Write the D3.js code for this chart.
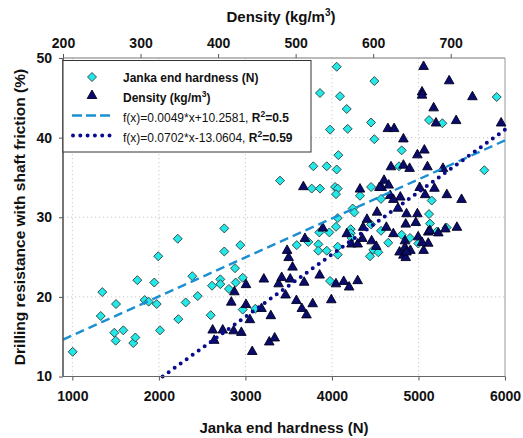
<!DOCTYPE html>
<html>
<head>
<meta charset="utf-8">
<script src="https://cdn.jsdelivr.net/npm/d3@7/dist/d3.min.js"></script>
<style>
  html, body { margin: 0; padding: 0; background: #fff; }
  svg { display: block; font-family: "Liberation Sans", Arial, sans-serif; }
</style>
</head>
<body>
<svg id="chart" width="523" height="438"></svg>
<script>
// Janka end hardness (N) vs. drilling resistance (%)
const jankaHardness = [
  1004, 1346, 1328, 1505, 1485, 1501, 1589, 1704, 1728, 1751, 1836, 1882, 1947, 1975, 1993, 2013,
  2225, 2218, 2310, 2386, 2449, 2599, 2614, 2710, 2710, 2756, 2756, 2810, 2880, 2888, 2941, 2969,
  2969, 3114, 3400, 4055, 4490, 3862, 4093, 4171, 3978, 4182, 4452, 4490, 5122, 5276, 5904, 4074,
  3785, 3940, 4055, 4806, 4775, 5761, 3766, 3862, 4036, 4067, 4047, 4324, 4452, 4567, 5153, 4240,
  4259, 4067, 5122, 5133, 4047, 4217, 4452, 3854, 3970, 4567, 5326, 3727, 3593, 3843, 3843, 3940,
  4067, 4067, 3978, 4217, 4228, 4478, 4536, 4440, 4651, 4806, 4998, 4902, 5211
];
const jankaDrilling = [
  13.1, 20.6, 17.6, 19.1, 15.5, 14.5, 15.8, 14.2, 14.9, 22.1, 19.6, 19.4, 21.8, 19.1, 25.1, 15.8,
  17.2, 27.3, 19.3, 22.6, 20.1, 17.7, 21.4, 22.2, 21.6, 25.7, 28.6, 21.0, 23.6, 21.8, 26.5, 22.4,
  18.4, 18.5, 34.6, 48.9, 47.1, 45.6, 45.2, 43.6, 41.0, 41.1, 41.9, 39.8, 42.2, 41.8, 45.1, 37.8,
  36.4, 36.4, 36.0, 38.4, 36.4, 35.9, 33.6, 33.6, 33.8, 33.6, 32.9, 32.7, 33.8, 32.3, 32.1, 31.1,
  30.6, 29.9, 30.4, 29.2, 28.8, 28.5, 29.1, 28.1, 28.1, 28.3, 28.7, 26.9, 26.5, 26.6, 25.8, 25.8,
  26.3, 25.3, 22.0, 28.0, 27.4, 25.9, 25.6, 25.1, 26.8, 27.8, 26.7, 27.4, 28.2
];

// Density (kg/m3) vs. drilling resistance (%)
const woodDensity = [
  393, 395, 406, 420, 430, 436, 436, 421, 417, 441, 444, 459, 456, 468, 466, 473,
  478, 482, 487, 489, 491, 496, 493, 511, 531, 501, 522, 508, 514, 546, 552, 562,
  569, 580, 512, 535, 566, 572, 580, 586, 598, 604, 634, 639, 642, 648, 665, 671,
  626, 641, 658, 641, 663, 671, 684, 643, 510, 583, 611, 614, 605, 592, 587, 619,
  627, 639, 666, 657, 670, 623, 639, 647, 690, 660, 679, 667, 695, 714, 620, 622,
  635, 626, 632, 643, 657, 655, 642, 673, 708, 693, 617, 608, 665, 698, 663, 663,
  728, 678, 707, 681, 765
];
const densityDrilling = [
  15.9, 14.6, 15.9, 15.8, 15.6, 21.6, 19.1, 20.7, 19.4, 17.2, 13.2, 22.3, 18.6, 17.7, 14.4, 14.9,
  21.7, 22.5, 20.3, 25.9, 25.0, 23.8, 22.3, 21.9, 22.8, 19.6, 19.2, 18.6, 17.8, 19.7, 21.7, 22.0,
  21.3, 22.1, 27.4, 28.7, 28.0, 26.7, 26.7, 27.4, 27.1, 26.4, 25.7, 25.3, 25.0, 25.9, 25.9, 26.8,
  28.0, 27.1, 27.6, 26.3, 26.9, 28.2, 28.1, 25.7, 33.9, 33.6, 33.8, 34.7, 30.7, 29.8, 28.8, 41.2,
  41.2, 39.9, 38.5, 37.9, 36.4, 36.4, 36.6, 36.2, 36.2, 33.8, 33.7, 32.9, 32.9, 32.3, 34.1, 32.8,
  32.6, 32.3, 31.2, 30.5, 30.5, 29.4, 29.2, 28.4, 28.8, 28.6, 28.8, 33.8, 49.0, 47.2, 45.8, 45.4,
  45.2, 43.8, 42.2, 41.9, 41.9
];

// Linear fits shown in the legend
const fitJanka = { slope: 0.0049, intercept: 10.2581, r2: "0.5" };
const fitDensity = { slope: 0.0702, intercept: -13.0604, r2: "0.59" };

const bottomTicks = [1000, 2000, 3000, 4000, 5000, 6000];
const topTicks = [200, 300, 400, 500, 600, 700];
const leftTicks = [10, 20, 30, 40, 50];

const svg = d3.select("#chart");
const L = 63, R = 505, T = 58, B = 376.5;

const x = d3.scaleLinear().domain([892, 6000]).range([L, R]);
const xTop = d3.scaleLinear().domain([200, 770]).range([L, R]);
const y = d3.scaleLinear().domain([10, 50]).range([B, T]);

// grid
const grid = svg.append("g").attr("stroke", "#c8c8c8").attr("stroke-width", 1).attr("stroke-dasharray", "1.2 2.8");
grid.selectAll("line.v").data(bottomTicks.filter(d => d < 6000)).join("line")
  .attr("x1", d => x(d)).attr("x2", d => x(d)).attr("y1", T).attr("y2", B);
grid.selectAll("line.h").data([20, 30, 40]).join("line")
  .attr("x1", L).attr("x2", R).attr("y1", d => y(d)).attr("y2", d => y(d));

// frame
svg.append("line").attr("x1", L).attr("x2", R).attr("y1", T).attr("y2", T).attr("stroke", "#777").attr("stroke-width", 1);
svg.append("line").attr("x1", R).attr("x2", R).attr("y1", T).attr("y2", B).attr("stroke", "#999").attr("stroke-width", 1);

// markers
const diamond = "M0,-4.5L4.5,0L0,4.5L-4.5,0Z";
const triangle = "M0,-5L4.8,3.5L-4.8,3.5Z";

svg.append("g").selectAll("path").data(jankaHardness).join("path")
  .attr("d", diamond)
  .attr("transform", (d, i) => `translate(${x(d)},${y(jankaDrilling[i])})`)
  .attr("fill", "#22e8e8").attr("stroke", "#2b3b3b").attr("stroke-width", 0.9);

svg.append("g").selectAll("path").data(woodDensity).join("path")
  .attr("d", triangle)
  .attr("transform", (d, i) => `translate(${xTop(d)},${y(densityDrilling[i])})`)
  .attr("fill", "#0b0b6b").attr("stroke", "#00001e").attr("stroke-width", 0.9);

// regression lines
const jx0 = x.domain()[0], jx1 = x.domain()[1];
svg.append("line")
  .attr("x1", x(jx0)).attr("y1", y(fitJanka.slope * jx0 + fitJanka.intercept))
  .attr("x2", x(jx1)).attr("y2", y(fitJanka.slope * jx1 + fitJanka.intercept))
  .attr("stroke", "#1b8fd2").attr("stroke-width", 2.4).attr("stroke-dasharray", "9 5");

const dStart = (10 - fitDensity.intercept) / fitDensity.slope;
const dEnd = xTop.domain()[1];
svg.append("line")
  .attr("x1", xTop(dStart)).attr("y1", y(10))
  .attr("x2", xTop(dEnd)).attr("y2", y(fitDensity.slope * dEnd + fitDensity.intercept))
  .attr("stroke", "#0a0a8c").attr("stroke-width", 4).attr("stroke-linecap", "round")
  .attr("stroke-dasharray", "0 7.4");

// axes
const styleAxis = (g, size) => {
  g.select(".domain").remove();
  g.selectAll(".tick line").attr("stroke", "#555");
  g.selectAll(".tick text").attr("font-size", size).attr("font-weight", "bold").attr("fill", "#111")
    .attr("font-family", "Liberation Sans, Arial, sans-serif");
};
svg.append("g").attr("transform", `translate(0,${B})`)
  .call(d3.axisBottom(x).tickValues(bottomTicks).tickSize(4).tickPadding(11).tickFormat(d3.format("d")))
  .call(g => styleAxis(g, 14));
svg.append("g").attr("transform", `translate(0,${T})`)
  .call(d3.axisTop(xTop).tickValues(topTicks).tickSize(4).tickPadding(6).tickFormat(d3.format("d")))
  .call(g => styleAxis(g, 14));
svg.append("g").attr("transform", `translate(${L},0)`)
  .call(d3.axisLeft(y).tickValues(leftTicks).tickSize(4).tickPadding(7).tickFormat(d3.format("d")))
  .call(g => styleAxis(g, 14));

svg.append("line").attr("x1", L).attr("x2", R).attr("y1", B).attr("y2", B).attr("stroke", "#666").attr("stroke-width", 1);
svg.append("line").attr("x1", L).attr("x2", L).attr("y1", T).attr("y2", B).attr("stroke", "#555").attr("stroke-width", 1.6);

// titles
svg.append("text").attr("x", 284).attr("y", 433).attr("text-anchor", "middle")
  .attr("font-size", 15).attr("font-weight", "bold").attr("fill", "#111").text("Janka end hardness (N)");
const topTitle = svg.append("text").attr("x", 281).attr("y", 22).attr("text-anchor", "middle")
  .attr("font-size", 15).attr("font-weight", "bold").attr("fill", "#111");
topTitle.append("tspan").text("Density (kg/m");
topTitle.append("tspan").attr("dy", -6).attr("font-size", 10).text("3");
topTitle.append("tspan").attr("dy", 6).text(")");
svg.append("text").attr("transform", "translate(25,217) rotate(-90)").attr("text-anchor", "middle")
  .attr("font-size", 15.5).attr("font-weight", "bold").attr("fill", "#111")
  .text("Drilling resistance with shaft friction (%)");

// legend
const lg = svg.append("g");
lg.append("rect").attr("x", L).attr("y", 60.5).attr("width", 248).attr("height", 91.5)
  .attr("fill", "#fff").attr("stroke", "#333").attr("stroke-width", 1);
lg.append("path").attr("d", diamond).attr("transform", "translate(92,77)")
  .attr("fill", "#22e8e8").attr("stroke", "#2b3b3b").attr("stroke-width", 0.9);
lg.append("path").attr("d", triangle).attr("transform", "translate(92,95)")
  .attr("fill", "#0b0b6b").attr("stroke", "#00001e").attr("stroke-width", 0.9);
lg.append("line").attr("x1", 72).attr("x2", 110).attr("y1", 115.5).attr("y2", 115.5)
  .attr("stroke", "#1b8fd2").attr("stroke-width", 2.4).attr("stroke-dasharray", "10 4");
lg.append("line").attr("x1", 73).attr("x2", 110).attr("y1", 135.5).attr("y2", 135.5)
  .attr("stroke", "#0a0a8c").attr("stroke-width", 4).attr("stroke-linecap", "round").attr("stroke-dasharray", "0 7.3");

const tx = 123;
lg.append("text").attr("x", tx).attr("y", 81.5).attr("font-size", 12).attr("font-weight", "bold").attr("fill", "#111")
  .text("Janka end hardness (N)");
const t2 = lg.append("text").attr("x", tx).attr("y", 102).attr("font-size", 12).attr("font-weight", "bold").attr("fill", "#111");
t2.append("tspan").text("Density (kg/m");
t2.append("tspan").attr("dy", -5).attr("font-size", 8.5).text("3");
t2.append("tspan").attr("dy", 5).text(")");

function eqLabel(yPos, fit) {
  const sign = fit.intercept < 0 ? "-" : "+";
  const t = lg.append("text").attr("x", tx).attr("y", yPos).attr("font-size", 12).attr("fill", "#111");
  t.append("tspan").text(`f(x)=${fit.slope.toFixed(4)}*x${sign}${Math.abs(fit.intercept).toFixed(4)}, `);
  t.append("tspan").attr("font-weight", "bold").text("R");
  t.append("tspan").attr("font-weight", "bold").attr("font-size", 8.5).attr("dy", -5).text("2");
  t.append("tspan").attr("font-weight", "bold").attr("dy", 5).text("=" + fit.r2);
}
eqLabel(122, fitJanka);
eqLabel(142, fitDensity);
</script>
</body>
</html>
